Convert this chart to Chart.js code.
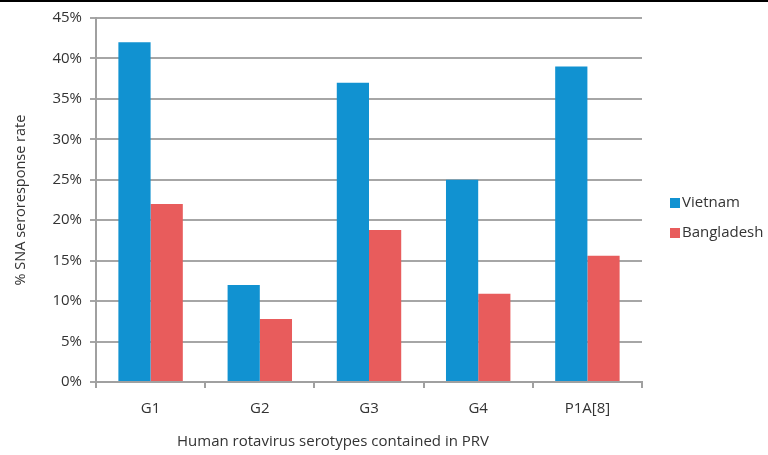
<!DOCTYPE html>
<html><head><meta charset="utf-8">
<script src="https://cdn.jsdelivr.net/npm/chart.js@4/dist/chart.umd.min.js"></script>
<style>html,body{margin:0;padding:0;background:#fff;}#wrap{position:relative;width:768px;height:455px;}</style>
</head><body><div id="wrap"><canvas id="c" width="768" height="455"></canvas></div>
<script>
const categories = ["G1", "G2", "G3", "G4", "P1A[8]"];
const vietnam = [42, 12, 37, 25, 39];
const bangladesh = [22, 7.8, 18.8, 10.9, 15.6];
const seriesNames = ["Vietnam", "Bangladesh"];
const yTicks = [0, 5, 10, 15, 20, 25, 30, 35, 40, 45];
const xTitle = 'Human rotavirus serotypes contained in PRV';
const FONT = "'Open Sans', Lato, sans-serif";
const TXT = '#333333';

const legendPlugin = {
  id: 'sideLegend',
  afterDraw(chart) {
    const ctx = chart.ctx;
    ctx.save();
    ctx.fillStyle = '#000';
    ctx.fillRect(0, 0, 768, 2);
    ctx.textBaseline = 'middle';
    chart.data.datasets.forEach((ds, i) => {
      const y = 203 + i * 30;
      ctx.fillStyle = ds.backgroundColor;
      ctx.fillRect(670, y - 5, 10, 10);
      ctx.fillStyle = TXT;
      ctx.font = "15px " + FONT;
      ctx.textAlign = 'left';
      ctx.fillText(ds.label, 682, y);
    });
    ctx.font = "15px " + FONT;
    ctx.textAlign = 'center';
    ctx.fillStyle = TXT;
    ctx.fillText(xTitle, 333, 442);
    ctx.restore();
  }
};

new Chart(document.getElementById('c'), {
  type: 'bar',
  data: {
    labels: categories,
    datasets: [
      {label: seriesNames[0], data: vietnam, backgroundColor: '#1192D1'},
      {label: seriesNames[1], data: bangladesh, backgroundColor: '#E85C5C'}
    ]
  },
  options: {
    responsive: false,
    animation: false,
    layout: {padding: {top: 18, right: 126, left: 0, bottom: 0}},
    datasets: {bar: {barPercentage: 1, categoryPercentage: 0.59}},
    plugins: {legend: {display: false}, tooltip: {enabled: false}},
    scales: {
      x: {
        offset: true,
        grid: {display: true, drawOnChartArea: false, offset: true, tickLength: 6, color: '#A0A0A0', lineWidth: 2},
        border: {display: true, color: '#A0A0A0', width: 2},
        ticks: {color: TXT, font: {family: FONT, size: 15}, padding: 12},
        afterFit(s) { s.height = 73; }
      },
      y: {
        min: 0, max: 45,
        afterBuildTicks(s) { s.ticks = yTicks.map(v => ({value: v})); },
        grid: {color: '#A6A6A6', lineWidth: 2, tickLength: 6},
        border: {display: true, color: '#A0A0A0', width: 2},
        ticks: {color: TXT, font: {family: FONT, size: 15}, padding: 8, callback: v => v + '%'},
        title: {display: true, text: '% SNA seroresponse rate', color: TXT, font: {family: FONT, size: 14.5}, padding: {top: 12, bottom: 4}},
        afterFit(s) { s.width = 96; }
      }
    }
  },
  plugins: [legendPlugin]
});
</script></body></html>
